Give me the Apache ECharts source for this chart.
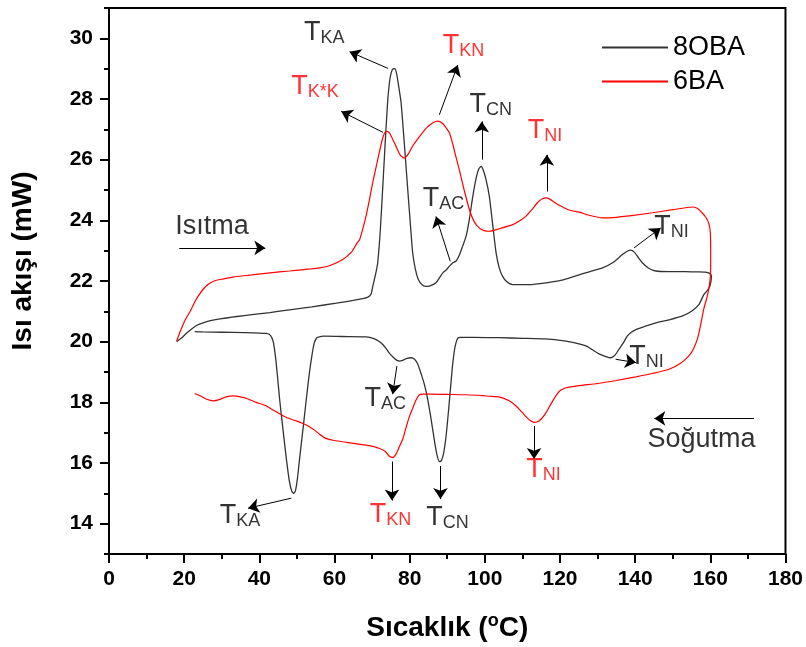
<!DOCTYPE html>
<html>
<head>
<meta charset="utf-8">
<script src="https://cdn.jsdelivr.net/npm/echarts@6/dist/echarts.min.js"></script>
<style>
html,body{margin:0;padding:0;background:#fff;}
#c{width:806px;height:647px;}
</style>
</head>
<body>
<div id="c"></div>
<script>
// DSC heating / cooling loops, temperature (°C) vs heat flow (mW)
const heat8OBA = [[18.0,20.00],[19.3,20.12],[20.6,20.28],[22.0,20.42],[23.4,20.54],[25.0,20.62],[27.0,20.69],[30.0,20.76],[34.0,20.83],[38.0,20.89],[42.8,20.96],[48.0,21.05],[54.0,21.15],[60.5,21.27],[65.0,21.36],[67.5,21.42],[68.9,21.47],[69.7,21.56],[70.2,21.83],[70.9,22.2],[71.5,22.6],[72.2,23.7],[72.9,25.23],[73.6,26.8],[74.2,28.0],[74.8,28.7],[75.4,28.97],[76.0,29.0],[76.5,28.85],[77.1,28.4],[77.7,27.9],[78.6,26.5],[79.5,25.0],[80.3,23.7],[80.8,22.93],[81.5,22.4],[82.3,22.05],[83.3,21.88],[84.4,21.82],[85.6,21.85],[87.0,21.94],[88.0,22.12],[88.8,22.27],[89.7,22.36],[90.6,22.49],[91.5,22.6],[92.3,22.65],[93.2,22.85],[94.1,23.15],[95.0,23.47],[95.9,24.05],[96.8,24.79],[97.7,25.4],[98.4,25.7],[99.0,25.78],[99.6,25.65],[100.4,25.3],[101.2,24.79],[102.1,23.85],[103.0,22.93],[103.8,22.45],[104.7,22.16],[105.8,21.98],[107.4,21.88],[111.8,21.88],[116.3,21.94],[120.5,22.03],[124.2,22.17],[128.0,22.31],[131.3,22.43],[134.0,22.6],[136.6,22.87],[138.0,22.99],[138.8,23.02],[139.7,22.96],[140.8,22.78],[141.9,22.6],[143.5,22.43],[145.5,22.33],[149.0,22.31],[153.4,22.31],[156.5,22.3],[158.7,22.29],[159.8,22.25],[160.3,22.16]];
const cool8OBA = [[159.9,21.83],[159.2,21.68],[158.3,21.56],[157.0,21.23],[155.0,21.0],[152.5,20.84],[149.0,20.72],[145.5,20.62],[142.5,20.5],[140.2,20.4],[138.9,20.3],[137.9,20.18],[136.8,19.95],[135.7,19.75],[134.6,19.55],[133.5,19.47],[132.4,19.5],[130.4,19.6],[128.5,19.74],[126.9,19.86],[124.0,19.96],[121.6,20.02],[116.0,20.09],[110.0,20.11],[103.9,20.13],[97.0,20.14],[93.5,20.14],[92.8,20.12],[92.3,19.95],[91.9,19.7],[91.4,19.2],[91.0,18.65],[90.4,17.8],[89.7,16.9],[89.0,16.3],[88.4,16.07],[87.9,16.05],[87.3,16.25],[86.7,16.65],[86.2,17.05],[85.5,17.6],[84.8,18.1],[84.0,18.55],[83.1,18.92],[82.2,19.25],[81.3,19.42],[80.4,19.47],[79.1,19.44],[78.1,19.38],[77.3,19.36],[76.4,19.4],[75.5,19.5],[74.6,19.62],[73.8,19.76],[72.9,19.9],[72.0,20.0],[70.5,20.1],[68.4,20.16],[62.0,20.17],[57.0,20.18],[56.2,20.17],[55.3,20.13],[54.6,19.95],[54.0,19.55],[53.3,18.95],[52.5,18.1],[51.6,17.1],[50.7,16.13],[50.1,15.45],[49.6,15.08],[49.1,15.0],[48.6,15.08],[48.0,15.4],[47.2,16.13],[46.3,17.1],[45.4,18.1],[44.8,18.9],[44.3,19.5],[43.7,20.0],[43.0,20.2],[41.9,20.27],[36.0,20.3],[30.0,20.31],[25.0,20.32],[22.8,20.33]];
const heat6BA = [[18.0,20.02],[19.0,20.35],[20.2,20.7],[21.5,20.98],[23.0,21.35],[24.0,21.55],[25.0,21.72],[26.5,21.9],[28.0,22.0],[29.5,22.05],[33.0,22.13],[38.0,22.2],[42.8,22.27],[48.0,22.33],[53.0,22.39],[56.0,22.43],[59.0,22.52],[62.2,22.71],[64.5,22.95],[66.0,23.25],[66.7,23.37],[67.6,23.75],[68.5,24.2],[69.3,24.68],[70.1,25.2],[70.8,25.6],[71.5,26.0],[72.3,26.45],[73.0,26.78],[73.8,26.93],[74.5,26.9],[75.2,26.75],[76.4,26.43],[77.5,26.15],[78.6,26.05],[79.7,26.2],[80.8,26.45],[82.6,26.76],[84.5,27.05],[86.2,27.22],[87.5,27.27],[88.7,27.2],[89.7,27.05],[90.6,26.88],[91.5,26.5],[92.3,26.1],[93.2,25.67],[94.5,25.0],[95.9,24.35],[97.2,23.95],[98.5,23.75],[99.8,23.66],[101.2,23.64],[104.0,23.73],[107.4,23.86],[109.2,23.98],[110.9,24.13],[112.5,24.35],[114.0,24.58],[115.3,24.71],[116.3,24.74],[117.3,24.7],[118.5,24.6],[119.8,24.5],[122.4,24.34],[125.1,24.27],[128.0,24.16],[131.3,24.08],[135.0,24.1],[140.0,24.17],[144.6,24.25],[150.0,24.35],[155.2,24.44],[156.5,24.4],[157.8,24.25],[158.8,24.1],[159.6,23.9],[160.0,23.6],[160.1,23.0]];
const cool6BA = [[160.1,22.4],[159.8,21.9],[159.2,21.5],[158.3,21.1],[157.5,20.6],[156.7,20.15],[155.6,19.78],[154.3,19.53],[152.0,19.28],[149.0,19.09],[144.5,18.95],[140.2,18.84],[135.0,18.72],[130.0,18.62],[125.0,18.55],[121.6,18.48],[120.0,18.38],[118.9,18.21],[117.6,17.95],[116.3,17.66],[115.0,17.45],[114.0,17.36],[113.1,17.34],[112.1,17.4],[111.0,17.52],[110.0,17.66],[108.3,17.88],[106.5,18.05],[104.0,18.17],[101.0,18.2],[99.4,18.22],[95.0,18.25],[90.0,18.26],[85.0,18.27],[83.5,18.27],[82.6,18.25],[81.6,18.05],[80.8,17.8],[79.9,17.52],[79.0,17.15],[78.2,16.8],[77.3,16.55],[76.4,16.3],[75.5,16.18],[74.6,16.22],[73.5,16.38],[72.0,16.48],[69.3,16.57],[66.0,16.63],[62.2,16.7],[59.6,16.75],[57.5,16.82],[56.0,16.95],[54.5,17.1],[53.0,17.22],[51.6,17.3],[50.0,17.38],[48.3,17.45],[46.3,17.56],[44.0,17.72],[41.9,17.88],[39.2,18.0],[37.0,18.11],[35.0,18.18],[33.0,18.21],[31.0,18.17],[29.5,18.1],[27.7,18.05],[26.0,18.1],[24.5,18.2],[22.8,18.29]];

const yTickLabels = [14, 16, 18, 20, 22, 24, 26, 28, 30];

// transition labels: [T, mW] anchor, subscript, series ('8OBA' black / '6BA' red)
const transitionLabels = [
  [[52.3, 30.49], 'KA', '8OBA'],
  [[48.9, 28.72], 'K*K', '6BA'],
  [[89.2, 30.05], 'KN', '6BA'],
  [[96.3, 28.13], 'CN', '8OBA'],
  [[111.8, 27.26], 'NI', '6BA'],
  [[83.9, 25.01], 'AC', '8OBA'],
  [[145.5, 24.09], 'NI', '8OBA'],
  [[138.8, 19.80], 'NI', '8OBA'],
  [[68.4, 18.41], 'AC', '8OBA'],
  [[29.9, 14.57], 'KA', '8OBA'],
  [[69.8, 14.59], 'KN', '6BA'],
  [[84.8, 14.51], 'CN', '8OBA'],
  [[111.4, 16.07], 'NI', '6BA']
];
// scan direction captions
const scanLabels = [
  [[18.0, 24.09], 'Isıtma'],
  [[143.7, 17.06], 'Soğutma']
];
// arrows: [fromT, fromMW, toT, toMW]
const arrows = [
  [74.2, 29.01, 64.0, 29.56],
  [72.9, 26.90, 61.8, 27.59],
  [87.9, 27.48, 92.8, 29.12],
  [99.2, 26.00, 99.2, 27.26],
  [116.5, 24.95, 116.5, 26.16],
  [90.8, 22.65, 87.0, 24.13],
  [139.7, 23.09, 146.8, 23.75],
  [134.8, 19.42, 140.2, 19.31],
  [76.6, 19.20, 75.5, 18.27],
  [48.5, 14.84, 37.0, 14.51],
  [75.3, 16.05, 75.3, 14.76],
  [88.2, 15.90, 88.2, 14.81],
  [113.1, 17.22, 113.1, 16.13],
  [18.7, 23.09, 41.6, 23.09],
  [171.6, 17.47, 145.1, 17.47]
];

const FONT = '"Liberation Sans", Arial, Helvetica, sans-serif';
const COLORS = { '8OBA': '#333333', '6BA': '#ff0000' };
const LABEL_COLORS = { '8OBA': '#000000', '6BA': '#ff0000' };

const richStyle = {
  t: { fontSize: 27, lineHeight: 28, verticalAlign: 'top', padding: [0, 0, 6, 0], fontFamily: FONT },
  s: { fontSize: 18, lineHeight: 18, verticalAlign: 'bottom', fontFamily: FONT }
};

const labelData = transitionLabels.map(function (l) {
  return {
    value: l[0],
    label: { color: LABEL_COLORS[l[2]], formatter: '{t|T}{s|' + l[1] + '}' }
  };
}).concat(scanLabels.map(function (l) {
  return {
    value: l[0],
    label: { color: '#000', formatter: '{t|' + l[1] + '}' }
  };
}));

const chart = echarts.init(document.getElementById('c'), null, { renderer: 'canvas' });

const axisLineStyle = { color: '#000', width: 2 };

chart.setOption({
  animation: false,
  backgroundColor: '#fff',
  textStyle: { fontFamily: FONT },
  grid: { left: 109, right: 19, top: 8, bottom: 92, show: true, borderColor: '#000', borderWidth: 2, containLabel: false },
  legend: {
    data: ['8OBA', '6BA'],
    orient: 'vertical',
    left: 596, top: 29,
    itemWidth: 66, itemHeight: 14, itemGap: 7,
    itemStyle: { opacity: 0 },
    textStyle: { fontSize: 27, color: '#000', fontFamily: FONT, lineHeight: 25 },
    selectedMode: false
  },
  xAxis: {
    type: 'value', min: 0, max: 180, interval: 20,
    axisLine: { onZero: false, lineStyle: axisLineStyle },
    axisTick: { length: 9, lineStyle: axisLineStyle },
    minorTick: { show: true, splitNumber: 2, length: 5, lineStyle: axisLineStyle },
    splitLine: { show: false },
    axisLabel: { fontSize: 21, fontWeight: 'bold', color: '#000', margin: 15, fontFamily: FONT },
    name: '{a|Sıcaklık (}{b|o}{a|C)}',
    nameLocation: 'middle', nameGap: 58,
    nameTextStyle: {
      rich: {
        a: { fontSize: 28, fontWeight: 'bold', color: '#000', lineHeight: 32, fontFamily: FONT },
        b: { fontSize: 18, fontWeight: 'bold', color: '#000', lineHeight: 22, verticalAlign: 'top', fontFamily: FONT }
      }
    }
  },
  yAxis: [{
    type: 'value', min: 13, max: 31,
    axisLine: { onZero: false, lineStyle: axisLineStyle },
    axisTick: { length: 9, lineStyle: axisLineStyle, customValues: yTickLabels },
    splitLine: { show: false },
    axisLabel: { fontSize: 21, fontWeight: 'bold', color: '#000', margin: 16, fontFamily: FONT, customValues: yTickLabels },
    name: 'Isı akışı (mW)',
    nameLocation: 'middle', nameGap: 72,
    nameTextStyle: { fontSize: 28, fontWeight: 'bold', color: '#000', fontFamily: FONT, padding: [0, 0, 0, 40] }
  }, {
    type: 'value', min: 13, max: 31, interval: 1, position: 'left',
    axisLine: { show: false },
    axisTick: { length: 5, lineStyle: axisLineStyle },
    axisLabel: { show: false },
    splitLine: { show: false }
  }],
  series: [{
    name: '8OBA', type: 'line', symbol: 'none', smooth: 0.2,
    data: heat8OBA.concat(cool8OBA),
    lineStyle: { color: COLORS['8OBA'], width: 1.3 },
    itemStyle: { color: COLORS['8OBA'] },
    emphasis: { disabled: true }, z: 3
  }, {
    name: '6BA', type: 'line', symbol: 'none', smooth: 0.2,
    data: heat6BA.concat(cool6BA),
    lineStyle: { color: COLORS['6BA'], width: 1.2 },
    itemStyle: { color: COLORS['6BA'] },
    emphasis: { disabled: true }, z: 3
  }, {
    name: 'notes', type: 'scatter', symbolSize: 1,
    itemStyle: { color: 'rgba(0,0,0,0)' },
    silent: true, z: 5,
    emphasis: { disabled: true },
    label: {
      show: true, position: [0, 0], align: 'left', verticalAlign: 'top',
      offset: [-1, -4], fontFamily: FONT, rich: richStyle
    },
    data: labelData,
    markLine: {
      silent: true, animation: false,
      symbol: ['none', 'arrow'], symbolSize: 11,
      lineStyle: { color: '#000', width: 1, type: 'solid' },
      label: { show: false },
      emphasis: { disabled: true },
      data: arrows.map(function (a) { return [{ coord: [a[0], a[1]] }, { coord: [a[2], a[3]] }]; })
    }
  }]
});
</script>
</body>
</html>
